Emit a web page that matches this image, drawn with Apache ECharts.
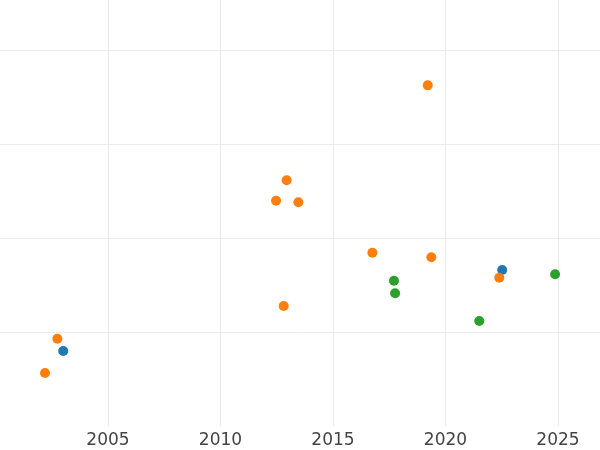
<!DOCTYPE html>
<html>
<head>
<meta charset="utf-8">
<script src="https://cdn.jsdelivr.net/npm/echarts@6/dist/echarts.min.js"></script>
<style>html,body{margin:0;padding:0;background:#fff;overflow:hidden;width:600px;height:450px}#c{position:absolute;left:-5px;top:0;width:610px;height:450px}</style>
</head>
<body>
<div id="c"></div>
<script>
const blueX = [2003.01, 2022.52];
const blueY = [0.798, 1.660];
const orangeX = [2019.21, 2012.94, 2012.47, 2013.46, 2016.75, 2019.37, 2012.81, 2022.39, 2002.75, 2002.20];
const orangeY = [3.624, 2.614, 2.397, 2.380, 1.844, 1.795, 1.277, 1.578, 0.929, 0.564];
const greenX = [2017.71, 2017.76, 2021.50, 2024.87];
const greenY = [1.546, 1.412, 1.117, 1.614];
const xTicks = [2005, 2010, 2015, 2020, 2025];

const zip = (a, b) => a.map((v, i) => [v, b[i]]);
const chart = echarts.init(document.getElementById('c'));
const mk = (name, color, xs, ys) => ({
  name, type: 'scatter', symbolSize: 10, itemStyle: {color, opacity: 1},
  data: zip(xs, ys)
});
chart.setOption({
  animation: false,
  grid: {left: 0.5, right: 2, top: 0, bottom: 24, containLabel: false},
  xAxis: {
    type: 'value', min: 2000, max: 2027, interval: 5,
    axisLine: {show: false}, axisTick: {show: false},
    axisLabel: {
      show: true, fontSize: 17, color: '#444', margin: 6, fontFamily: 'DejaVu Sans',
      showMinLabel: false, showMaxLabel: false,
      formatter: v => xTicks.includes(v) ? String(v) : ''
    },
    splitLine: {show: true, showMinLine: false, showMaxLine: false, lineStyle: {color: '#ebebeb', width: 1}}
  },
  yAxis: {
    type: 'value', min: 0, max: 4.532, interval: 1,
    axisLine: {show: false}, axisTick: {show: false}, axisLabel: {show: false},
    splitLine: {show: true, showMinLine: false, showMaxLine: false, lineStyle: {color: '#ebebeb', width: 1}}
  },
  series: [
    mk('blue', '#1f77b4', blueX, blueY),
    mk('orange', '#ff7f0e', orangeX, orangeY),
    mk('green', '#2ca02c', greenX, greenY)
  ]
});
</script>
</body>
</html>
